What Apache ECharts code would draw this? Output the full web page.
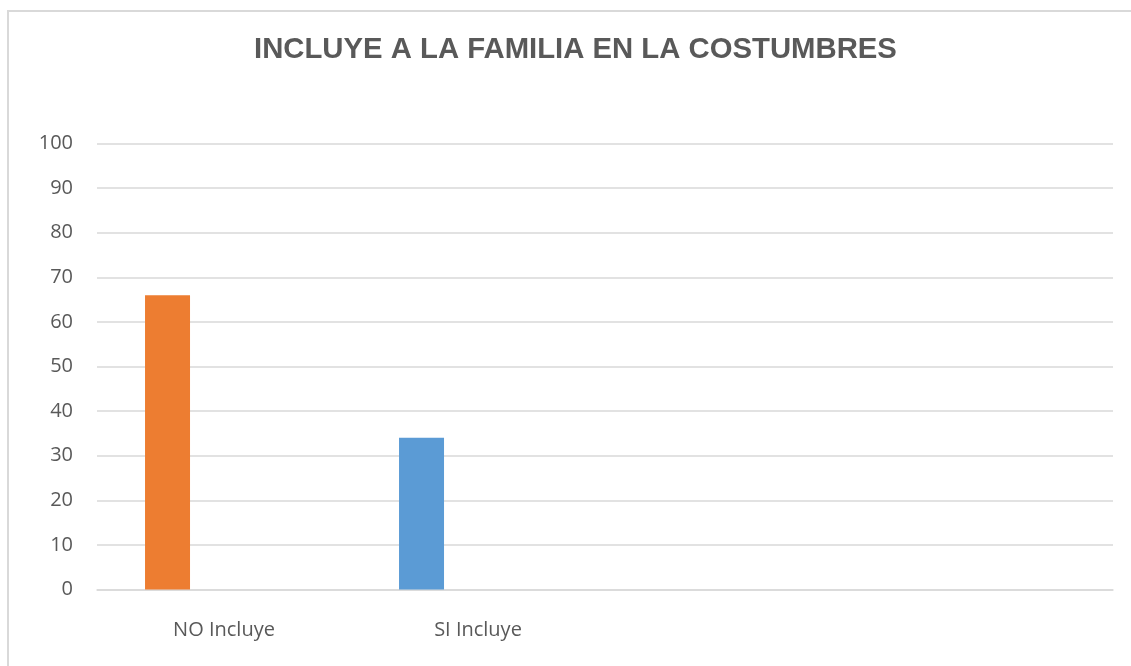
<!DOCTYPE html>
<html>
<head>
<meta charset="utf-8">
<script src="https://cdn.jsdelivr.net/npm/echarts@6/dist/echarts.min.js"></script>
<style>
html,body{margin:0;padding:0;background:#fff;}
#chart{width:1131px;height:666px;}
</style>
</head>
<body>
<div id="chart"></div>
<script>
const titleText = 'INCLUYE A LA FAMILIA EN LA COSTUMBRES';
const categories = ['NO Incluye', 'SI Incluye', '', ''];
const values = [66, 34, '-', '-'];
const barColors = ['#ED7D31', '#5B9BD5', '#ED7D31', '#5B9BD5'];
const emptySeries = ['-', '-', '-', '-'];
const yTicks = { min: 0, max: 100, interval: 10 };

const chart = echarts.init(document.getElementById('chart'), null, { renderer: 'canvas' });
chart.setOption({
  animation: false,
  backgroundColor: '#ffffff',
  title: {
    text: titleText,
    left: 249,
    top: 30,
    textStyle: { fontFamily: 'Liberation Sans, Arial, sans-serif', fontWeight: 'bold', fontSize: 29.3, color: '#595959' }
  },
  graphic: [{
    type: 'rect',
    silent: true,
    shape: { x: 8, y: 11, width: 1300, height: 800 },
    style: { fill: 'none', stroke: '#d9d9d9', lineWidth: 2 }
  }],
  grid: { left: 97, right: 18, top: 143.5, bottom: 76.5, containLabel: false },
  xAxis: {
    type: 'category',
    data: categories,
    axisLine: { show: true, lineStyle: { color: '#d9d9d9', width: 1.5 } },
    axisTick: { show: false },
    axisLabel: { fontFamily: 'Open Sans, sans-serif', fontSize: 20, color: '#595959', margin: 31 },
    splitLine: { show: false }
  },
  yAxis: {
    type: 'value',
    min: yTicks.min,
    max: yTicks.max,
    interval: yTicks.interval,
    axisLine: { show: false },
    axisTick: { show: false },
    axisLabel: { fontFamily: 'Open Sans, sans-serif', fontSize: 20, color: '#595959', margin: 24 },
    splitLine: { show: true, lineStyle: { color: '#d9d9d9', width: 1.5 } }
  },
  series: [
    {
      type: 'bar',
      data: values.map((v, i) => ({ value: v, itemStyle: { color: barColors[i] } })),
      barWidth: 45,
      barGap: '151%'
    },
    {
      type: 'bar',
      data: emptySeries,
      barWidth: 45
    }
  ]
});
</script>
</body>
</html>
